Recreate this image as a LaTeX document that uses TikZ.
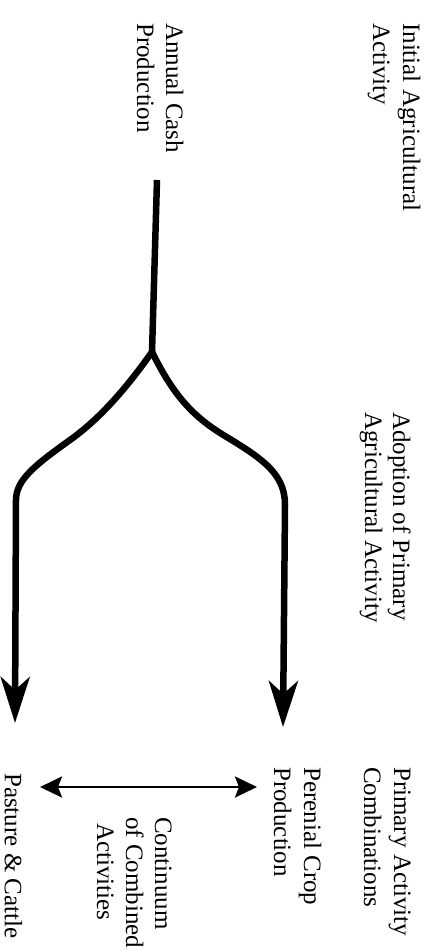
\documentclass[tikz,border=0pt]{standalone}
\usepackage{fontspec}
\setmainfont{Liberation Serif}
\usetikzlibrary{arrows.meta}
\tikzset{
  lbl/.style={rotate=-90,anchor=base west,inner sep=0pt,font=\fontsize{25}{29}\selectfont},
  flow/.style={line width=6.5pt,line cap=butt,line join=round},
  bigtip/.style={-{Stealth[length=46pt,width=29pt,inset=13pt]}},
  duo/.style={line width=2.7pt,{Stealth[length=22pt,width=21pt,inset=4pt]}-{Stealth[length=22pt,width=21pt,inset=4pt]}}
}
\begin{document}
\begin{tikzpicture}[x=1pt,y=-1pt]
\useasboundingbox (0,0) rectangle (425,951);
% labels
\node[lbl] (init1) at (403,23) {Initial Agricultural};
\node[lbl] (init2) at (373,23) {Activity};
\node[lbl] (ann1) at (166,23) {Annual Cash};
\node[lbl] (ann2) at (137,23) {Production};
\node[lbl] (adopt1) at (393,412) {Adoption of Primary};
\node[lbl] (adopt2) at (365,412) {Agricultural Activity};
\node[lbl] (prim1) at (394,767) {Primary Activity};
\node[lbl] (prim2) at (364,767) {Combinations};
\node[lbl] (per1) at (304,767) {Perenial Crop};
\node[lbl] (per2) at (274,767) {Production};
\node[lbl] (cont1) at (155,817) {Continuum};
\node[lbl] (cont2) at (126,817) {of Combined};
\node[lbl] (cont3) at (97,823) {Activities};
\node[lbl] (past) at (5,773) {Pasture \& Cattle};
% flow lines
\coordinate (top) at (157,180);
\coordinate (fork) at (152,352);
\coordinate (ltip) at (15,723);
\coordinate (rtip) at (283,727);
\draw[flow] (top) -- (fork);
\draw[flow,bigtip] (fork) .. controls (132,380) and (105,415) .. (70,440)
  .. controls (35,465) and (16,480) .. (16,500) -- (ltip);
\draw[flow,bigtip] (fork) .. controls (172,392) and (190,415) .. (225,436)
  .. controls (265,460) and (285,475) .. (285,505) -- (rtip);
% continuum double arrow
\coordinate (dl) at (40,787);
\coordinate (dr) at (257,787);
\draw[duo] (dl) -- (dr);
\end{tikzpicture}
\end{document}
